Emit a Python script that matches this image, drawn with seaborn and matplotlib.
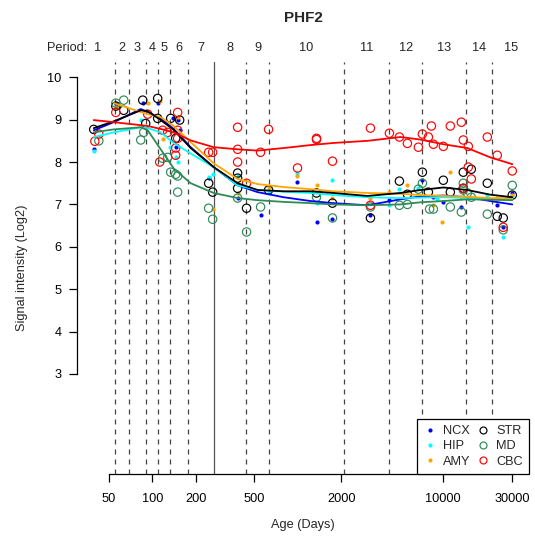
import numpy as np
import pandas as pd
import matplotlib
matplotlib.use("Agg")
import matplotlib.pyplot as plt
from matplotlib.lines import Line2D
import seaborn as sns

# ---------------- data ----------------
regions = ["NCX", "HIP", "AMY", "STR", "MD", "CBC"]
region_colors = ["#0000FF", "#00FFFF", "#FFA500", "#000000", "#2E8B57", "#FF0000"]
region_open = [False, False, False, True, True, True]

ncx_pts = [(39.4, 8.30), (55.9, 9.36), (85.7, 9.39), (108.6, 9.39), (137.8, 9.03),
           (149.1, 8.99), (153.9, 8.75), (144.5, 8.35), (243.7, 7.62), (385.8, 7.15),
           (555.1, 6.75), (997, 7.53), (1348, 6.58), (1736, 6.65), (3170, 6.75),
           (4282, 7.10), (7223, 7.57), (8600, 7.17), (10070, 7.05), (13394, 6.94),
           (23680, 6.98), (26040, 6.46), (30040, 7.27)]
hip_pts = [(39.4, 8.26), (83.0, 9.00), (131.4, 8.35), (144.5, 8.11), (149.1, 8.00),
           (243.7, 7.65), (259.6, 7.71), (385.8, 7.67), (630, 7.27), (997, 7.74),
           (1348, 7.03), (1736, 7.57), (4282, 6.98), (5018, 7.36), (6780, 7.38),
           (9160, 7.12), (14960, 6.46), (20220, 7.22), (26040, 6.23), (30040, 7.20)]
amy_pts = [(55.9, 9.30), (92.7, 9.39), (112.1, 9.44), (117.6, 8.54), (149.1, 9.06),
           (259.6, 6.89), (385.8, 7.27), (630, 7.41), (997, 7.67), (1348, 7.45),
           (1736, 7.15), (3170, 7.15), (4282, 7.29), (5694, 7.45), (8600, 6.98),
           (9800, 6.58), (11250, 7.76), (13394, 7.17), (23680, 7.15), (30040, 7.22)]
str_pts = [(39.4, 8.77), (55.9, 9.32), (63.4, 9.22), (85.7, 9.46), (89.8, 8.91),
           (108.6, 9.50), (108.6, 9.03), (133.5, 9.03), (153.9, 8.99), (144.5, 8.56),
           (243.7, 7.50), (259.6, 7.29), (385.8, 7.74), (385.8, 7.62), (385.8, 7.38),
           (444.6, 6.91), (630, 7.34), (1348, 7.27), (1736, 7.03), (3170, 6.68),
           (5018, 7.55), (5694, 7.24), (7223, 7.76), (7943, 7.29), (10070, 7.57),
           (11250, 7.29), (13820, 7.76), (15690, 7.83), (13820, 7.38), (20220, 7.50),
           (23680, 6.72), (26040, 6.68), (30040, 7.22)]
md_pts = [(42.7, 8.50), (55.9, 9.39), (63.4, 9.46), (87.0, 8.70), (83.0, 8.52),
          (117.6, 8.09), (127.3, 8.11), (133.5, 7.76), (144.5, 7.71), (149.1, 7.67),
          (149.1, 7.29), (243.7, 6.91), (259.6, 6.65), (385.8, 7.15), (444.6, 6.35),
          (555.1, 6.94), (1348, 7.17), (1736, 6.68), (3170, 6.94), (5018, 6.98),
          (5694, 7.00), (6780, 7.36), (7223, 7.50), (8100, 6.89), (8600, 6.89),
          (11250, 6.94), (13394, 6.82), (13820, 7.50), (13820, 7.34), (14730, 7.27),
          (15690, 7.17), (20220, 6.77), (26040, 6.40), (30040, 7.45)]
cbc_pts = [(40.1, 8.49), (42.7, 8.66), (55.9, 9.17), (92.7, 9.13), (112.1, 8.00),
           (117.6, 8.75), (127.3, 8.70), (149.1, 9.17), (149.1, 8.75), (149.1, 8.56),
           (144.5, 8.33), (144.5, 8.16), (243.7, 8.23), (259.6, 8.23), (385.8, 8.82),
           (385.8, 8.30), (385.8, 8.00), (444.6, 7.50), (555.1, 8.23), (630, 8.77),
           (997, 7.86), (1348, 8.56), (1348, 8.53), (1736, 8.02), (3170, 8.80),
           (3170, 6.98), (4282, 8.68), (5018, 8.59), (5694, 8.44), (6780, 8.35),
           (7223, 8.66), (7943, 8.59), (8329, 8.85), (8600, 8.42), (10070, 8.37),
           (11250, 8.85), (13394, 8.94), (13820, 8.52), (13820, 7.38), (14960, 8.37),
           (14960, 7.88), (15690, 7.60), (20220, 8.59), (23680, 8.16), (26040, 6.46),
           (30040, 7.79)]

# smoothed trend curves
fit_age = [39.4, 54.1, 83.0, 92.7, 113.9, 140.0, 183.2, 263.8, 385.8, 529.3,
           799, 1225, 1764, 3022, 5098, 6998, 10070, 14730, 21200, 30040]
ncx_fit = [8.75, 8.94, 9.25, 9.18, 9.03, 8.78, 8.35, 7.88, 7.45, 7.29,
           7.17, 7.08, 7.03, 6.98, 7.12, 7.19, 7.21, 7.17, 7.08, 7.00]
hip_fit = [8.59, 8.70, 8.82, 8.80, 8.70, 8.45, 8.20, 7.88, 7.45, 7.34,
           7.30, 7.27, 7.22, 7.17, 7.15, 7.16, 7.17, 7.15, 7.13, 7.12]
amy_fit = [np.nan, 9.39, 9.18, 9.13, 9.06, 8.85, 8.47, 7.97, 7.60, 7.48,
           7.41, 7.36, 7.31, 7.27, 7.25, 7.22, 7.20, 7.18, 7.15, 7.15]
str_fit = [8.80, 8.96, 9.22, 9.20, 8.99, 8.76, 8.33, 7.88, 7.50, 7.34,
           7.31, 7.31, 7.27, 7.20, 7.27, 7.34, 7.40, 7.34, 7.23, 7.17]
md_fit = [8.70, 8.77, 8.82, 8.75, 8.30, 7.85, 7.50, 7.27, 7.15, 7.10,
          7.06, 7.03, 7.00, 6.98, 7.00, 7.05, 7.08, 7.12, 7.11, 7.10]
cbc_fit = [8.99, 8.94, 8.87, 8.85, 8.78, 8.70, 8.51, 8.35, 8.30, 8.27,
           8.33, 8.40, 8.45, 8.50, 8.59, 8.53, 8.42, 8.33, 8.11, 7.95]

# period boundaries (days) and labels
period_bounds = [55, 68.7, 89.7, 110, 131, 175, 264, 444, 630, 2098, 4280, 7220, 14480, 21860]
birth_day = 264
period_outer = (32, 40000)
period_labels = [str(i) for i in range(1, 16)]

x_ticks = [50, 100, 200, 500, 2000, 10000, 30000]
y_ticks = [3, 4, 5, 6, 7, 8, 9, 10]

points = [ncx_pts, hip_pts, amy_pts, str_pts, md_pts, cbc_pts]
fits = [ncx_fit, hip_fit, amy_fit, str_fit, md_fit, cbc_fit]

# ---------------- plotting ----------------
sns.set_style("ticks")
plt.rcParams["font.family"] = ["Liberation Sans", "DejaVu Sans"]
FS = 9.2

fig = plt.figure(figsize=(5.35, 5.48), dpi=100)
L, R, B, T = 77 / 535, 529 / 535, 1 - 474 / 548, 1 - 62 / 548
ax = fig.add_axes([L, B, R - L, T - B])
ax.set_xscale("log")

# axis ranges like R (4% extension)
all_age = np.concatenate([[p[0] for p in pts] for pts in points])
lo, hi = np.log10(all_age.min()), np.log10(all_age.max())
ext = 0.04 * (hi - lo)
ax.set_xlim(10 ** (lo - ext), 10 ** (hi + ext))
ax.set_ylim(1 - 0.36, 10 + 0.36)

# period lines
for b in period_bounds:
    if b == birth_day:
        ax.axvline(b, color="#555555", lw=0.9, zorder=1)
    else:
        ax.axvline(b, color="#444444", lw=0.9, ls=(0, (4, 4)), zorder=1)

# points
for name, pts, col, op in zip(regions, points, region_colors, region_open):
    df = pd.DataFrame(pts, columns=["age", "val"])
    if op:
        sns.scatterplot(data=df, x="age", y="val", ax=ax, marker="o", s=36,
                        facecolor="none", edgecolor=col, linewidth=0.85, zorder=3)
    else:
        sns.scatterplot(data=df, x="age", y="val", ax=ax, marker="o", s=9,
                        color=col, linewidth=0, zorder=3)

# trend curves
for name, fv, col in zip(regions, fits, region_colors):
    df = pd.DataFrame({"age": fit_age, "val": fv}).dropna()
    sns.lineplot(data=df, x="age", y="val", ax=ax, color=col, lw=1.3,
                 estimator=None, sort=False, zorder=4)

# axes styling (R-like)
for s in ["top", "right"]:
    ax.spines[s].set_visible(False)
ax.spines["left"].set_bounds(3, 10)
ax.spines["bottom"].set_bounds(x_ticks[0], x_ticks[-1])
for s in ["left", "bottom"]:
    ax.spines[s].set_linewidth(0.9)
    ax.spines[s].set_color("black")
ax.set_xticks(x_ticks)
ax.set_xticklabels([str(t) for t in x_ticks])
ax.xaxis.set_minor_locator(matplotlib.ticker.NullLocator())
ax.set_yticks(y_ticks)
ax.set_yticklabels([str(t) for t in y_ticks])
ax.tick_params(axis="both", which="major", direction="out", length=6, width=0.9,
               color="black", labelsize=FS, labelcolor="black",
               bottom=True, left=True, top=False, right=False)
ax.tick_params(axis="x", pad=7.5)
ax.tick_params(axis="y", pad=5)
ax.set_xlabel("")
ax.set_ylabel("")
ax.grid(False)

fig.text((L + R) / 2, 1 - 525 / 548, "Age (Days)", ha="center", va="center", fontsize=FS)
fig.text(22 / 535, (B + T) / 2, "Signal intensity (Log2)", ha="center", va="center",
         rotation=90, fontsize=FS)
ax.text(0.5, (474 - 18) / 412, "PHF2", transform=ax.transAxes, ha="center", va="center",
        fontsize=11, fontweight="bold")

# period labels
edges = np.log10([period_outer[0]] + period_bounds + [period_outer[1]])
mids = 10 ** ((edges[:-1] + edges[1:]) / 2)
ytxt = (474 - 48) / 412
for m, lab in zip(mids, period_labels):
    ax.text(m, ytxt, lab, transform=ax.get_xaxis_transform(), ha="center", va="center",
            fontsize=FS, clip_on=False)
ax.text((87 - 77) / 452, ytxt, "Period:", transform=ax.transAxes, ha="right",
        va="center", fontsize=FS, clip_on=False)

# legend
handles = []
for name, col, op in zip(regions, region_colors, region_open):
    if op:
        h = Line2D([], [], ls="none", marker="o", markersize=5, markerfacecolor="none",
                   markeredgecolor=col, markeredgewidth=0.85, label=name)
    else:
        h = Line2D([], [], ls="none", marker="o", markersize=3, markerfacecolor=col,
                   markeredgewidth=0, label=name)
    handles.append(h)
leg = ax.legend(handles=handles, loc="lower right", ncol=2, fontsize=FS, frameon=True,
                fancybox=False, borderaxespad=0, borderpad=0.5, labelspacing=0.25,
                handlelength=1.0, handletextpad=0.5, columnspacing=0.5)
leg.get_frame().set_edgecolor("black")
leg.get_frame().set_linewidth(0.9)
leg.get_frame().set_alpha(1)
leg.set_zorder(10)

fig.savefig("out.png", dpi=100)
